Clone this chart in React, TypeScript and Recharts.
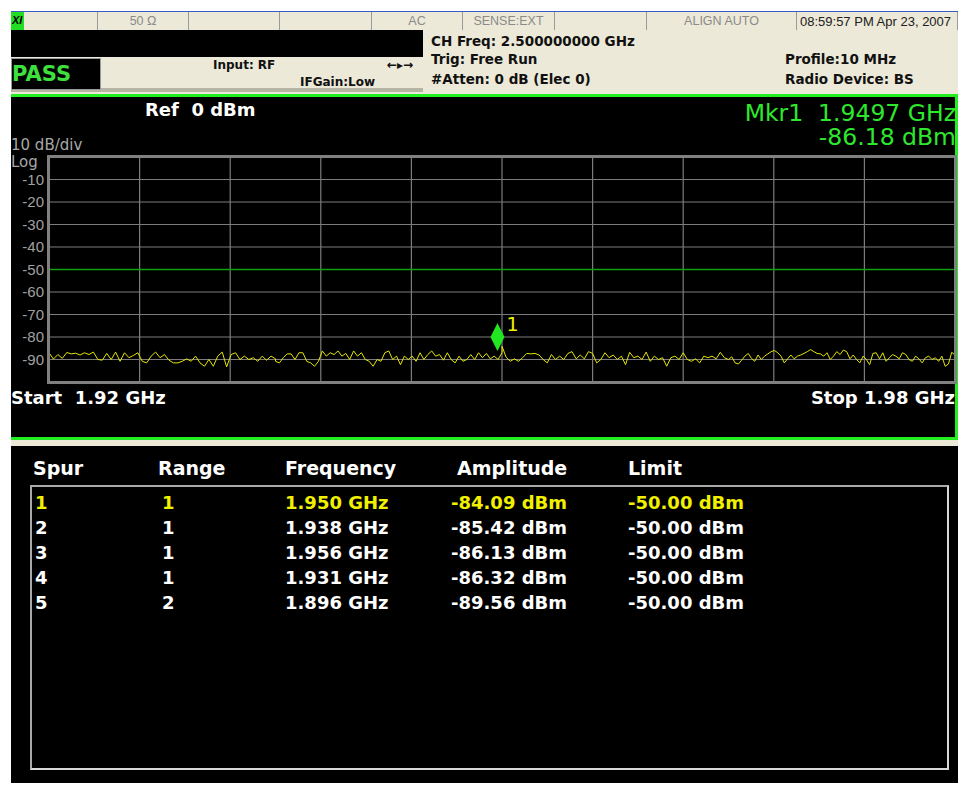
import React from 'react';
import { LineChart, Line, XAxis, YAxis, CartesianGrid, ReferenceLine, ReferenceDot } from 'recharts';

// sweep settings
const startGHz = 1.92;
const stopGHz = 1.98;
const xGridTicks = [1.926, 1.932, 1.938, 1.944, 1.95, 1.956, 1.962, 1.968, 1.974];
const yTicks = [0, -10, -20, -30, -40, -50, -60, -70, -80, -90, -100];
const limitDbm = -50;
const markerGHz = 1.9497;
const markerDbm = -86.18;

// trace, one quarter of the span at a time (dBm)
const traceQ1 = [
  -87.0, -89.8, -87.8, -89.5, -86.9, -87.5, -87.2, -88.0, -87.0, -87.8, -86.7, -90.0, -90.3,
  -87.3, -90.0, -86.7, -90.8, -87.0, -89.2, -88.2, -87.0, -90.8, -91.5, -88.5, -86.7, -89.2,
  -87.8, -90.3, -91.5, -91.5, -90.8, -89.7, -90.8, -88.5, -91.5, -93.0, -90.0, -93.0, -88.5,
  -86.7, -93.3, -87.8, -87.0, -90.0, -88.5, -90.0, -89.2, -90.8, -88.5, -90.3, -88.5, -89.7,
];
const traceQ2 = [
  -90.8, -91.5, -89.2, -87.5, -87.5, -90.0, -87.0, -87.0, -90.8, -91.5, -93.0, -90.8, -86.2,
  -88.5, -87.0, -87.8, -86.2, -88.5, -87.3, -90.0, -86.2, -88.5, -87.0, -90.0, -90.8, -93.0,
  -90.0, -90.8, -87.0, -86.2, -90.0, -88.5, -92.3, -88.5, -90.0, -88.5, -90.8, -87.0, -90.0,
  -87.8, -86.2, -88.5, -87.8, -90.3, -87.0, -90.0, -91.5, -88.5, -90.8, -90.0, -87.8, -90.0,
  -87.0, -89.2, -87.3, -89.7, -88.5, -90.0, -87.0,
];
const traceQ3 = [
  -84.1, -89.0, -90.8, -89.7, -90.8, -89.2, -87.3, -87.5, -87.3, -88.0, -90.0, -91.5, -87.8,
  -90.0, -88.5, -90.0, -87.3, -86.5, -89.7, -88.0, -89.7, -86.5, -87.3, -91.5, -90.0, -87.0,
  -89.2, -88.0, -90.0, -88.5, -92.3, -86.8, -89.2, -88.5, -90.0, -86.7, -90.8, -88.5, -90.0,
  -89.2, -93.0, -89.2, -88.5, -90.0, -87.0, -90.0, -90.8, -89.7, -91.5, -88.5, -89.2, -88.5,
  -89.7, -86.8, -89.2, -90.0,
];
const traceQ4 = [
  -90.0, -88.8, -91.5, -92.0, -90.3, -88.5, -87.3, -89.5, -90.8, -88.0, -90.0, -88.5, -87.5,
  -86.5, -86.0, -87.0, -88.5, -91.5, -89.7, -88.0, -89.7, -88.5, -88.0, -87.3, -86.5, -85.6,
  -86.5, -87.3, -87.5, -88.5, -87.0, -90.0, -88.5, -86.5, -87.8, -85.8, -86.5, -89.7, -88.0,
  -90.0, -91.5, -88.5, -90.0, -92.3, -87.3, -87.0, -89.7, -87.0, -90.8, -89.2, -87.8, -88.5,
  -89.7, -87.0, -87.8, -90.0, -90.8, -88.5, -89.7, -91.5, -89.2, -88.5, -90.0, -89.2, -90.8,
  -88.5, -93.0, -92.0, -86.8, -88.0,
];

// spur table
const spurNo = ['1', '2', '3', '4', '5'];
const spurRange = ['1', '1', '1', '1', '2'];
const spurFreq = ['1.950 GHz', '1.938 GHz', '1.956 GHz', '1.931 GHz', '1.896 GHz'];
const spurAmp = ['-84.09 dBm', '-85.42 dBm', '-86.13 dBm', '-86.32 dBm', '-89.56 dBm'];
const spurLimit = ['-50.00 dBm', '-50.00 dBm', '-50.00 dBm', '-50.00 dBm', '-50.00 dBm'];

const quarter = (stopGHz - startGHz) / 4;
const traceData = [traceQ1, traceQ2, traceQ3, traceQ4].flatMap((q, qi) =>
  q.map((dbm, j) => ({ freq: startGHz + qi * quarter + (j * quarter) / (q.length - 1), dbm }))
);

const FONT = '"Liberation Sans", Arial, sans-serif';
const NARROW = '"Liberation Sans Narrow", "Liberation Sans", Arial, sans-serif';
const WIDE = '"DejaVu Sans", Verdana, sans-serif';
const BEIGE = '#ece9d8';
const GREEN = '#2ee82e';

const statusCells = [
  { x: 11, w: 87, text: '' },
  { x: 98, w: 91, text: '50 Ω' },
  { x: 189, w: 91, text: '' },
  { x: 280, w: 92, text: '' },
  { x: 372, w: 91, text: 'AC' },
  { x: 463, w: 92, text: 'SENSE:EXT' },
  { x: 555, w: 92, text: '' },
  { x: 647, w: 150, text: 'ALIGN AUTO' },
  { x: 797, w: 161, text: '08:59:57 PM Apr 23, 2007' },
];

const abs = (left: number, top: number, extra: React.CSSProperties = {}): React.CSSProperties => ({
  position: 'absolute',
  left,
  top,
  whiteSpace: 'pre',
  lineHeight: 1,
  ...extra,
});

const MarkerShape = (props: any) => {
  const { cx, cy } = props;
  if (cx == null || cy == null) return null;
  return (
    <g>
      <polygon
        points={`${cx},${cy - 28} ${cx + 7},${cy - 14} ${cx},${cy} ${cx - 7},${cy - 14}`}
        fill="#22e622"
      />
      <text x={cx + 9} y={cy - 20} fill="#f0f000" fontSize={19} fontFamily={WIDE}>
        1
      </text>
    </g>
  );
};

export default function App() {
  const info = { color: '#111', fontSize: 13.5, fontWeight: 700, fontFamily: WIDE };
  return (
    <div style={{ position: 'absolute', left: 0, top: 0, width: 961, height: 785, background: '#fff', fontFamily: FONT, overflow: 'hidden' }}>
      {/* status bar */}
      <div style={abs(11, 11, { width: 947, height: 1, background: '#3a5bc0' })} />
      {statusCells.map((c, i) => (
        <div
          key={i}
          style={abs(c.x, 12, {
            width: c.w,
            height: 18,
            boxSizing: 'border-box',
            background: BEIGE,
            borderRight: '1px solid #9a9a9a',
            color: i === 8 ? '#202020' : '#8a8a8a',
            fontSize: i === 8 ? 13 : 12.5,
            display: 'flex',
            alignItems: 'center',
            justifyContent: i === 8 ? 'flex-start' : 'center',
            paddingLeft: i === 8 ? 3 : 0,
          })}
        >
          {c.text}
        </div>
      ))}
      <div style={abs(11, 12, { width: 13, height: 18, background: '#22dd22', color: '#000', fontSize: 11, fontWeight: 700, fontStyle: 'italic' })}>
        <span style={{ position: 'relative', top: 3, left: 1 }}>XI</span>
      </div>

      <div style={abs(11, 30, { width: 947, height: 64, background: BEIGE })} />
      <div style={abs(11, 30, { width: 412, height: 27, background: '#000' })} />
      <div style={abs(11, 88, { width: 412, height: 4, background: '#b8b4a4' })} />
      <div style={abs(11, 58, { width: 90, height: 32, background: '#000', boxSizing: 'border-box', border: '1px solid #9a9a9a' })} />
      <div style={abs(12, 64, { color: '#3ee03e', fontSize: 21, fontWeight: 700, fontFamily: WIDE })}>PASS</div>
      <div style={abs(213, 59, { ...info, fontSize: 12 })}>Input: RF</div>
      <div style={abs(300, 76, { ...info, fontSize: 12 })}>IFGain:Low</div>
      <div style={abs(387, 59, { ...info, fontSize: 12 })}>{'←▸→'}</div>
      <div style={abs(431, 35, info)}>CH Freq: 2.500000000 GHz</div>
      <div style={abs(431, 53, info)}>Trig: Free Run</div>
      <div style={abs(431, 73, info)}>#Atten: 0 dB (Elec 0)</div>
      <div style={abs(785, 53, info)}>Profile:10 MHz</div>
      <div style={abs(785, 73, info)}>Radio Device: BS</div>

      {/* graph panel */}
      <div style={abs(11, 94, { width: 947, height: 346, background: '#000', boxSizing: 'border-box', borderTop: '3px solid #22ee22', borderBottom: '3px solid #22ee22', borderRight: '3px solid #22ee22' })} />
      <div style={abs(145, 101, { color: '#fff', fontSize: 18, fontWeight: 700, fontFamily: WIDE })}>Ref  0 dBm</div>
      <div style={abs(11, 138, { color: '#a8a8a8', fontSize: 15, fontFamily: WIDE })}>10 dB/div</div>
      <div style={abs(11, 155, { color: '#a8a8a8', fontSize: 15, fontFamily: WIDE })}>Log</div>
      <div style={abs(600, 101, { width: 356, textAlign: 'right', color: GREEN, fontSize: 23.5, lineHeight: '24px', fontFamily: WIDE })}>
        {'Mkr1  1.9497 GHz\n-86.18 dBm'}
      </div>
      <div style={abs(11, 389, { color: '#fff', fontSize: 18, fontWeight: 700, fontFamily: WIDE })}>Start  1.92 GHz</div>
      <div style={abs(600, 389, { width: 355, textAlign: 'right', color: '#fff', fontSize: 18, fontWeight: 700, fontFamily: WIDE })}>Stop 1.98 GHz</div>

      <div style={abs(0, 0)}>
        <LineChart width={961} height={400} data={traceData} margin={{ top: 157, right: 6, bottom: 18, left: 11 }}>
          <CartesianGrid stroke="#7c7c7c" strokeWidth={1.2} vertical={false} />
          <XAxis
            dataKey="freq"
            type="number"
            domain={[startGHz, stopGHz]}
            allowDataOverflow
            tick={false}
            tickLine={false}
            axisLine={false}
            height={0}
          />
          <YAxis
            type="number"
            domain={[-100, 0]}
            ticks={yTicks}
            interval={0}
            width={38}
            tickLine={false}
            axisLine={false}
            tickSize={3}
            tickMargin={2}
            tickFormatter={(v: number) => (v === 0 || v === -100 ? '' : String(v))}
            tick={{ fill: '#a0a0a0', fontSize: 15, fontFamily: NARROW }}
          />
          {xGridTicks.map((f) => (
            <ReferenceLine key={f} x={f} stroke="#7c7c7c" strokeWidth={1.2} />
          ))}
          <ReferenceLine y={limitDbm} stroke="#10a010" strokeWidth={1.5} />
          <Line
            dataKey="dbm"
            type="linear"
            stroke="#e6e600"
            strokeWidth={1}
            dot={false}
            isAnimationActive={false}
          />
          <ReferenceDot x={markerGHz} y={markerDbm} shape={MarkerShape} />
        </LineChart>
      </div>
      <div style={abs(47, 155, { width: 910, height: 229, boxSizing: 'border-box', border: '3px solid #808080' })} />

      {/* spur table */}
      <div style={abs(11, 440, { width: 947, height: 6, background: BEIGE })} />
      <div style={abs(11, 446, { width: 947, height: 337, background: '#000' })} />
      {['Spur', 'Range', 'Frequency', 'Amplitude', 'Limit'].map((h, i) => (
        <div key={h} style={abs([33, 158, 285, 457, 628][i], 459, { color: '#fff', fontSize: 19, fontWeight: 700, fontFamily: WIDE })}>
          {h}
        </div>
      ))}
      <div style={abs(30, 485, { width: 919, height: 285, boxSizing: 'border-box', border: '2px solid #a8a8a8', borderRightColor: '#d8d8d8', borderBottomColor: '#d8d8d8' })} />
      {spurNo.map((n, i) => {
        const color = i === 0 ? '#f0f000' : '#fff';
        const top = 494 + i * 25;
        const cell = { color, fontSize: 18, fontWeight: 700, fontFamily: WIDE };
        return (
          <React.Fragment key={n}>
            <div style={abs(35, top, cell)}>{n}</div>
            <div style={abs(162, top, cell)}>{spurRange[i]}</div>
            <div style={abs(285, top, cell)}>{spurFreq[i]}</div>
            <div style={abs(451, top, cell)}>{spurAmp[i]}</div>
            <div style={abs(628, top, cell)}>{spurLimit[i]}</div>
          </React.Fragment>
        );
      })}
    </div>
  );
}
